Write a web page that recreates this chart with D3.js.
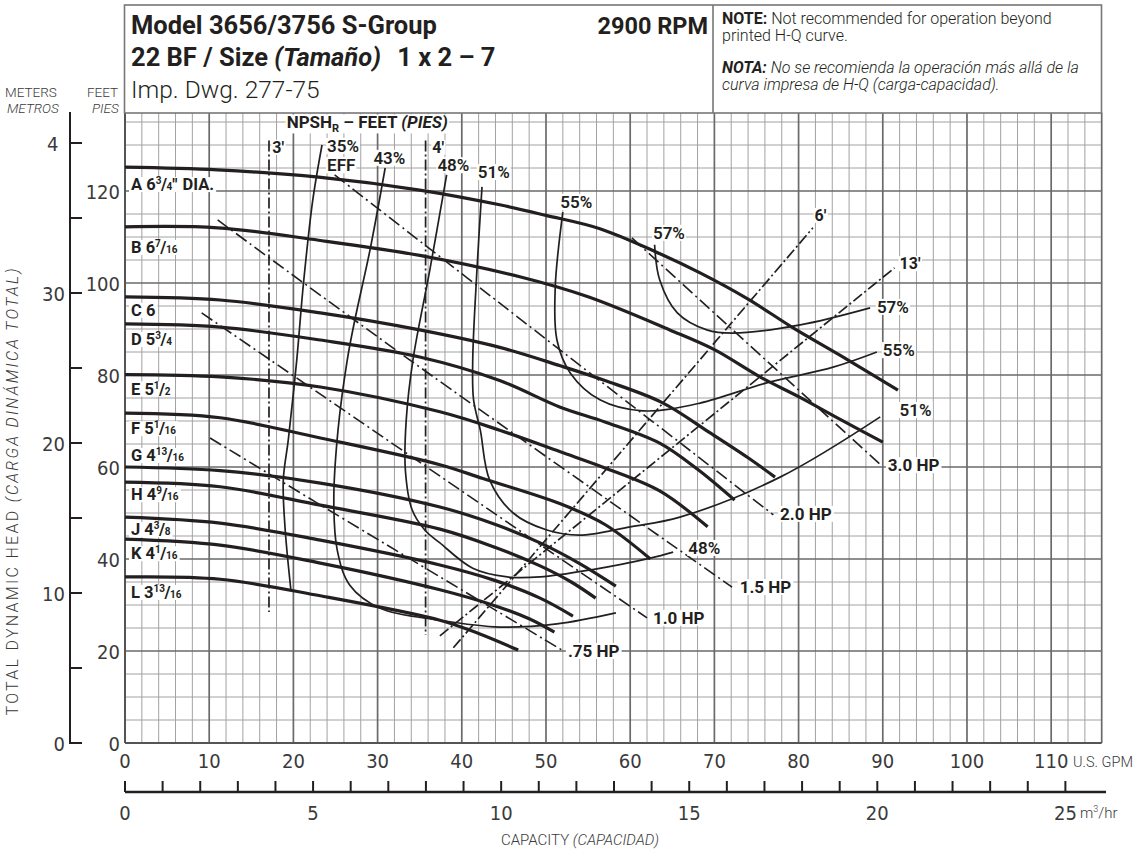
<!DOCTYPE html>
<html>
<head>
<meta charset="utf-8">
<script src="https://cdn.jsdelivr.net/npm/d3@7"></script>
<style>
  body { margin: 0; background: #fff; }
  svg { font-family: Roboto, "Open Sans", sans-serif; }
  .narrow { font-family: "Liberation Sans Narrow", "DejaVu Sans Condensed", Roboto, sans-serif; }
</style>
</head>
<body>
<div id="chart"></div>
<script>
// ---- data (U.S. GPM, feet) ----
const gpmTicks = [0, 10, 20, 30, 40, 50, 60, 70, 80, 90, 100, 110];
const feetTicks = [0, 20, 40, 60, 80, 100, 120];
const meterTicks = [0, 10, 20, 30, 40];
const meterLabels = ["0", "10", "20", "30", "4"];
const m3Ticks = [0, 5, 10, 15, 20, 25];

const headA = [[0,125.2],[11,124.6],[23,123],[35,120.2],[44.5,117],[50,114.7],[56.4,111.8],[63,106.8],[68.3,102.2],[74,96.5],[79.3,90.3],[85,84.2],[91.8,76.7]];
const headB = [[0,112.2],[11,112],[23,109.3],[35,106],[47,101.3],[55,97],[64.7,89.8],[70,85.5],[75.4,79.6],[80,75.3],[85,70.3],[90,65.4]];
const headC = [[0,97],[11.3,96.3],[23.2,93.5],[35,89.8],[44.5,86],[51.7,82],[57,78.8],[63.8,74],[69.5,67.4],[74,62],[77.2,57.8]];
const headD = [[0,91.1],[11.3,90.4],[23.2,87.6],[35,83.9],[44.5,78.8],[51.7,73],[57,69.8],[63.5,65.2],[68,59.5],[72.4,52.8]];
const headE = [[0,80.1],[11.3,79.6],[23.2,77.4],[37.4,72],[44.5,68],[51.7,63.3],[57,59.8],[63.5,54.8],[69.2,47]];
const headF = [[0,71.7],[11.3,70.7],[23.2,66.3],[37.4,60.5],[42.5,57.5],[51.7,52],[57,47.5],[62.4,40]];
const headG = [[0,60],[11.3,59.2],[23.2,56.5],[37.4,51.3],[44,47.5],[49.3,43.5],[54,39],[58.3,34.1]];
const headH = [[0,56.7],[11.3,55.7],[23.2,51.7],[37.4,46.5],[44,42.5],[49.3,38.5],[53,35],[55.9,31.5]];
const headJ = [[0,49.1],[11.3,47.8],[23.2,44.1],[37.4,38.7],[44,35.3],[49.3,31.5],[53.2,27.6]];
const headK = [[0,44.3],[11.3,43],[23.2,39.1],[37.4,33.3],[44,29.8],[48,27],[51,24.1]];
const headL = [[0,36.1],[11.3,35.6],[23.2,32],[37.4,26.7],[42,23.8],[46.7,20.2]];

const diaLetter = ["A","B","C","D","E","F","G","H","J","K","L"];
const diaWhole  = ["6","6","6","5","5","5","4","4","4","4","3"];
const diaNum    = ["3","7","","3","1","1","13","9","3","1","13"];
const diaDen    = ["4","16","","4","2","16","16","16","8","16","16"];

const eff35 = [[23.4,130],[22.3,118],[21.2,100],[20.4,83.3],[19.4,66],[18.8,57.2],[19,47],[19.7,33.3]];
const eff43 = [[30.9,125],[29.1,107.2],[27.3,92],[26.4,83.3],[25.3,68],[24.8,52.8],[25.2,42],[26.7,34.3],[30.3,29.3],[37.4,26.7],[44.5,25.2],[51.3,25.9],[58.3,28.3]];
const eff48 = [[38.2,123.5],[36.2,102.8],[34.2,83.3],[33.4,70.2],[33.3,59.3],[34.1,50.7],[35.6,46.3],[37.4,43.5],[41.3,38],[45.4,36.1],[49.3,36.1],[55.2,37.6],[62.4,40.2],[65.1,41.5]];
const eff51 = [[42.4,120.9],[41.8,102.8],[41.3,83.3],[41.4,74.6],[42.2,68],[43.3,57.2],[46.1,50],[50.1,46.3],[54,45.2],[60,47],[65.9,49.1],[77.8,57.8],[89.7,70.9]];
const eff55 = [[52,115.4],[51.1,99.1],[51.3,87.6],[52.9,80.4],[56.4,74.6],[61.5,72.2],[68.3,73.9],[76.2,78.3],[84.1,81.7],[89.3,85]];
const eff57 = [[62.9,108.3],[63.5,100.7],[65.6,93.5],[69.1,89.8],[72.2,89.1],[80.2,90.9],[88.5,94.6]];

const npsh3 = [[17.1,131],[17.1,28.5]];
const npsh4 = [[35.7,131],[35.7,23.5]];
const npsh6 = [[39,20.7],[81.7,112]];
const npsh13 = [[37.4,23.3],[91.4,103.3]];

const hp30 = [[60.2,109.8],[89.9,60.2]];
const hp20 = [[24.9,123.5],[51.7,85.4],[77,49.6]];
const hp15 = [[11,113.7],[33.8,83.3],[72.1,33.9]];
const hp10 = [[9.1,93.5],[62,27.2]];
const hp075 = [[10.1,66.3],[22.8,52.2],[51.9,20.2]];
const hpNames = ["3.0 HP", "2.0 HP", "1.5 HP", "1.0 HP", ".75 HP"];

// ---- drawing ----
const width = 1133, height = 852;
const svg = d3.select("#chart").append("svg")
  .attr("width", width).attr("height", height);

const x = d3.scaleLinear().domain([0, 116]).range([125, 1101.7]);
const y = d3.scaleLinear().domain([0, 137]).range([743, 112.8]);
const yM = d3.scaleLinear().domain([0, 40]).range([743, 143]);
const xM3 = d3.scaleLinear().domain([0, 26]).range([125, 1103]);

// grid
const grid = svg.append("g");
const vMinor = d3.range(0, 116, 2).filter(q => q % 10 !== 0);
const vMajor = d3.range(10, 116, 10);
const hMinor = d3.range(5, 137, 5).filter(h => h % 20 !== 0);
const hMajor = d3.range(20, 137, 20);
grid.selectAll(".vmin").data(vMinor).join("line")
  .attr("x1", d => x(d)).attr("x2", d => x(d)).attr("y1", y(0)).attr("y2", y(137))
  .attr("stroke", "#a2a2a2").attr("stroke-width", 1);
grid.selectAll(".hmin").data(hMinor).join("line")
  .attr("x1", x(0)).attr("x2", x(116)).attr("y1", d => y(d)).attr("y2", d => y(d))
  .attr("stroke", "#a2a2a2").attr("stroke-width", 1);
grid.selectAll(".vmaj").data(vMajor).join("line")
  .attr("x1", d => x(d)).attr("x2", d => x(d)).attr("y1", y(0)).attr("y2", y(137))
  .attr("stroke", "#6a6a6a").attr("stroke-width", 1.7);
grid.selectAll(".hmaj").data(hMajor).join("line")
  .attr("x1", x(0)).attr("x2", x(116)).attr("y1", d => y(d)).attr("y2", d => y(d))
  .attr("stroke", "#6a6a6a").attr("stroke-width", 1.7);
grid.append("line").attr("x1", x(116)).attr("x2", x(116)).attr("y1", y(0)).attr("y2", y(137))
  .attr("stroke", "#6a6a6a").attr("stroke-width", 1.7);
grid.append("line").attr("x1", x(0)).attr("x2", x(0)).attr("y1", y(0)).attr("y2", y(137))
  .attr("stroke", "#555").attr("stroke-width", 2);
grid.append("line").attr("x1", x(0)).attr("x2", x(116)).attr("y1", y(0)).attr("y2", y(0))
  .attr("stroke", "#555").attr("stroke-width", 2);

// header box
const head = svg.append("g");
head.append("rect").attr("x", 124.5).attr("y", 5).attr("width", 977).attr("height", 108)
  .attr("fill", "#fff").attr("stroke", "#777").attr("stroke-width", 1.6);
head.append("line").attr("x1", 713).attr("x2", 713).attr("y1", 5).attr("y2", 113)
  .attr("stroke", "#777").attr("stroke-width", 1.6);

head.append("text").attr("x", 131).attr("y", 34).attr("font-size", 25.5).attr("font-weight", 700)
  .attr("fill", "#231f20").text("Model 3656/3756 S-Group");
head.append("text").attr("x", 708).attr("y", 34).attr("font-size", 23.5).attr("font-weight", 700)
  .attr("text-anchor", "end").attr("fill", "#231f20").text("2900 RPM");
const t2 = head.append("text").attr("x", 131).attr("y", 66).attr("font-size", 25.5)
  .attr("font-weight", 700).attr("fill", "#231f20");
t2.append("tspan").text("22 BF / Size ");
t2.append("tspan").attr("font-style", "italic").text("(Tamaño)");
t2.append("tspan").attr("dx", 10).text(" 1 x 2 – 7");
head.append("text").attr("x", 131).attr("y", 98).attr("font-size", 24.5).attr("font-weight", 300)
  .attr("fill", "#231f20").text("Imp. Dwg. 277-75");

const n1 = head.append("text").attr("x", 722).attr("y", 24).attr("font-size", 16).attr("fill", "#231f20");
n1.append("tspan").attr("font-weight", 700).text("NOTE:");
n1.append("tspan").attr("font-weight", 300).text(" Not recommended for operation beyond");
head.append("text").attr("x", 722).attr("y", 41).attr("font-size", 16).attr("font-weight", 300)
  .attr("fill", "#231f20").text("printed H-Q curve.");
const n3 = head.append("text").attr("x", 722).attr("y", 73).attr("font-size", 16)
  .attr("font-style", "italic").attr("fill", "#231f20");
n3.append("tspan").attr("font-weight", 700).text("NOTA:");
n3.append("tspan").attr("font-weight", 300).text(" No se recomienda la operación más allá de la");
head.append("text").attr("x", 722).attr("y", 90).attr("font-size", 16).attr("font-weight", 300)
  .attr("font-style", "italic").attr("fill", "#231f20").text("curva impresa de H-Q (carga-capacidad).");

// line generators
const smooth = d3.line().x(d => x(d[0])).y(d => y(d[1])).curve(d3.curveCatmullRom.alpha(0.5));
const straight = d3.line().x(d => x(d[0])).y(d => y(d[1]));
const marks = svg.append("g").attr("fill", "none");

[hp30, hp20, hp15, hp10, hp075].forEach(s => {
  marks.append("path").attr("d", smooth(s)).attr("stroke", "#231f20")
    .attr("stroke-width", 1.6).attr("stroke-dasharray", "13,4,2,4");
});
[npsh3, npsh4, npsh6, npsh13].forEach(s => {
  marks.append("path").attr("d", straight(s)).attr("stroke", "#231f20")
    .attr("stroke-width", 1.7).attr("stroke-dasharray", "11,3,2,3");
});
[eff35, eff43, eff48, eff51, eff55, eff57].forEach(s => {
  marks.append("path").attr("d", smooth(s)).attr("stroke", "#231f20").attr("stroke-width", 1.7);
});
const heads = [headA, headB, headC, headD, headE, headF, headG, headH, headJ, headK, headL];
heads.forEach(s => {
  marks.append("path").attr("d", smooth(s)).attr("stroke", "#231f20").attr("stroke-width", 3.2);
});

// labels with white backing
const labels = svg.append("g").attr("fill", "#231f20");
function boxed(px, py, size, weight, build, pad) {
  const g = labels.append("g");
  const t = g.append("text").attr("x", px).attr("y", py).attr("font-size", size).attr("font-weight", weight);
  build(t);
  const b = t.node().getBBox();
  const p = pad === undefined ? 2 : pad;
  g.insert("rect", "text").attr("x", b.x - p).attr("y", b.y + 2).attr("width", b.width + 2 * p)
    .attr("height", b.height - 4).attr("fill", "#fff");
  return t;
}

const diaDy = [17, 20, 13, 15, 14, 15, -12, 12, 12, 14, 15];
heads.forEach((s, i) => {
  const py = y(s[0][1]) + diaDy[i] + 6;
  boxed(131, py, 16.5, 700, t => {
    t.append("tspan").text(diaLetter[i] + " " + diaWhole[i]);
    if (diaNum[i]) {
      t.append("tspan").attr("font-size", 10).attr("dy", -6).text(diaNum[i]);
      t.append("tspan").attr("dy", 6).attr("dx", -0.5).text("/");
      t.append("tspan").attr("font-size", 10).attr("dx", -0.5).text(diaDen[i]);
    }
    if (i === 0) t.append("tspan").text("\"").append("tspan").attr("dx", 5).text("DIA.");
  });
});

const effText = ["35%", "EFF", "43%", "48%", "51%", "55%", "57%", "57%", "55%", "51%", "48%"];
const effPos = [[24,128.5],[24,124.3],[29.5,125.9],[37.1,124.3],[41.9,122.8],[51.7,116.3],[62.7,109.6],[89.3,93.5],[90,84.1],[92,71.1],[66.9,41.1]];
effText.forEach((s, i) => {
  boxed(x(effPos[i][0]), y(effPos[i][1]), 17, 600, t => t.text(s), 1);
});

boxed(x(19.2), y(133.6), 17, 700, t => {
  t.append("tspan").text("NPSH");
  t.append("tspan").attr("font-size", 11).attr("dy", 4).text("R");
  t.append("tspan").attr("dy", -4).text(" – FEET ");
  t.append("tspan").attr("font-style", "italic").text("(PIES)");
}, 1);
const npshText = ["3'", "4'", "6'", "13'"];
const npshPos = [[17.5,128.3],[36.5,128.3],[81.9,113.5],[92,103]];
npshText.forEach((s, i) => boxed(x(npshPos[i][0]), y(npshPos[i][1]), 16, 700, t => t.text(s), 1));

const hpPos = [[90.6,59.1],[77.8,48.5],[73,32.6],[62.7,25.9],[52.6,18.7]];
hpNames.forEach((s, i) => boxed(x(hpPos[i][0]), y(hpPos[i][1]), 17, 700, t => t.text(s)));

// left axes
const axes = svg.append("g").attr("fill", "#3a3a3a");
axes.selectAll(".ft").data(feetTicks).join("text").attr("class", "narrow")
  .attr("x", 120).attr("y", d => y(d) + 8).attr("text-anchor", "end")
  .attr("font-size", 20).attr("font-weight", 300).text(d => d);

axes.append("line").attr("x1", 70).attr("x2", 70).attr("y1", 112).attr("y2", yM(0) + 1)
  .attr("stroke", "#231f20").attr("stroke-width", 2);
axes.selectAll(".mt").data(d3.range(0, 45, 5)).join("line")
  .attr("x1", 69).attr("x2", 82).attr("y1", d => yM(d)).attr("y2", d => yM(d))
  .attr("stroke", "#231f20").attr("stroke-width", 2);
axes.selectAll(".ml").data(meterTicks).join("text").attr("class", "narrow")
  .attr("x", (d, i) => meterLabels[i].length === 1 && d !== 0 ? 47 : 65)
  .attr("text-anchor", (d, i) => meterLabels[i].length === 1 && d !== 0 ? "start" : "end")
  .attr("y", d => yM(d) + 8).attr("font-size", 20).attr("font-weight", 300)
  .text((d, i) => meterLabels[i]);

axes.append("text").attr("x", 5).attr("y", 97).attr("font-size", 13.5).attr("font-weight", 300).text("METERS");
axes.append("text").attr("x", 7).attr("y", 113).attr("font-size", 13.5).attr("font-weight", 300)
  .attr("font-style", "italic").text("METROS");
axes.append("text").attr("x", 87).attr("y", 97).attr("font-size", 13.5).attr("font-weight", 300).text("FEET");
axes.append("text").attr("x", 92).attr("y", 113).attr("font-size", 13.5).attr("font-weight", 300)
  .attr("font-style", "italic").text("PIES");

const yt = axes.append("text").attr("transform", "translate(18,492) rotate(-90)")
  .attr("text-anchor", "middle").attr("font-size", 16).attr("font-weight", 300)
  .attr("textLength", 447).attr("lengthAdjust", "spacing");
yt.append("tspan").text("TOTAL DYNAMIC HEAD ");
yt.append("tspan").attr("font-style", "italic").text("(CARGA DINÁMICA TOTAL)");

// bottom axes
axes.selectAll(".gl").data(gpmTicks).join("text").attr("class", "narrow")
  .attr("x", d => x(d)).attr("y", 768).attr("text-anchor", "middle")
  .attr("font-size", 20).attr("font-weight", 300).text(d => d);
axes.append("text").attr("x", 1073).attr("y", 767).attr("font-size", 14.5).attr("font-weight", 300).text("U.S. GPM");

axes.append("line").attr("x1", xM3(0)).attr("x2", 1106).attr("y1", 792).attr("y2", 792)
  .attr("stroke", "#231f20").attr("stroke-width", 2.5);
axes.selectAll(".m3t").data(d3.range(0, 26, 1)).join("line")
  .attr("x1", d => xM3(d)).attr("x2", d => xM3(d)).attr("y1", 781).attr("y2", 792)
  .attr("stroke", "#231f20").attr("stroke-width", 2);
axes.selectAll(".m3l").data(m3Ticks).join("text").attr("class", "narrow")
  .attr("x", d => xM3(d)).attr("y", 820).attr("text-anchor", "middle")
  .attr("font-size", 20).attr("font-weight", 300).text(d => d);
const mu = axes.append("text").attr("x", 1080).attr("y", 818).attr("font-size", 15).attr("font-weight", 300);
mu.append("tspan").text("m");
mu.append("tspan").attr("font-size", 9).attr("dy", -6).text("3");
mu.append("tspan").attr("dy", 6).text("/hr");

const ct = axes.append("text").attr("x", 580).attr("y", 845).attr("text-anchor", "middle")
  .attr("font-size", 15).attr("font-weight", 300);
ct.append("tspan").text("CAPACITY ");
ct.append("tspan").attr("font-style", "italic").text("(CAPACIDAD)");
</script>
</body>
</html>
